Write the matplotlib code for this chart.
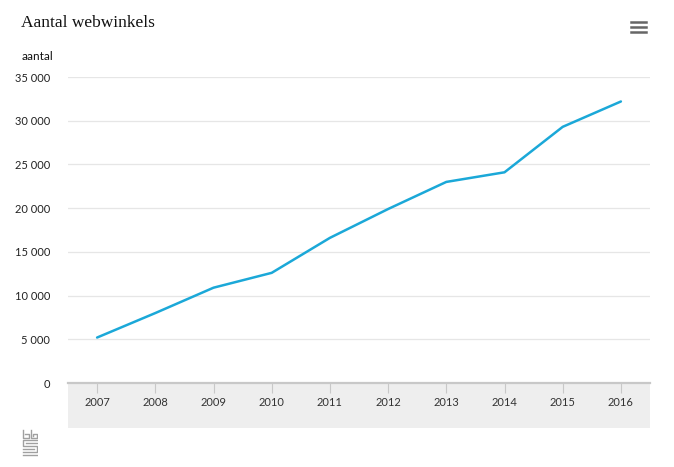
import matplotlib.pyplot as plt

# -------------------------------------------------
# Data
# -------------------------------------------------
years = ["2007", "2008", "2009", "2010", "2011", "2012", "2013", "2014", "2015", "2016"]
webwinkels = [5200, 8000, 10900, 12600, 16600, 19900, 23000, 24100, 29300, 32200]
y_ticks = [0, 5000, 10000, 15000, 20000, 25000, 30000, 35000]

W, H = 674, 467
fig = plt.figure(figsize=(W / 100, H / 100), dpi=100)

# plot area in pixels: x 68..650, y 77..383
left, right, top, bottom = 68, 650, 77, 383

# gray band below the axis (own axes, drawn first)
band = fig.add_axes([left / W, 1 - 428 / H, (right - left) / W, (428 - bottom) / H], zorder=0)
band.set_facecolor("#eeeeee")
band.set_xticks([])
band.set_yticks([])
for s in band.spines.values():
    s.set_visible(False)

ax = fig.add_axes([left / W, 1 - bottom / H, (right - left) / W, (bottom - top) / H], zorder=1)
ax.patch.set_alpha(0)

x = list(range(len(years)))
ax.plot(x, webwinkels, color="#1ba8d8", lw=1.8, solid_capstyle="round")

ax.set_xlim(-0.5, len(years) - 0.5)
ax.set_ylim(0, 35000)
ax.set_yticks(y_ticks)
ax.set_yticklabels([f"{v:,}".replace(",", " ") for v in y_ticks])
ax.grid(axis="y", color="#e6e6e6", lw=0.9)
ax.set_axisbelow(True)
for s in ["top", "right", "left"]:
    ax.spines[s].set_visible(False)
ax.spines["bottom"].set_color("#c8c8c8")
ax.spines["bottom"].set_linewidth(1.6)
ax.tick_params(axis="y", length=0, pad=13, labelsize=8, labelcolor="#222222")
ax.set_xticks(x)
ax.set_xticklabels(years)
ax.tick_params(axis="x", length=7, width=0.8, color="#c8c8c8",
               labelsize=8, labelcolor="#333333", pad=3)
for lbl in ax.get_yticklabels() + ax.get_xticklabels():
    lbl.set_family("Lato")

# title and axis label
fig.text(21 / W, 1 - 23 / H, "Aantal webwinkels", fontsize=12.5, family="Liberation Serif",
         va="center", ha="left", color="#111111")
fig.text(22 / W, 1 - 57 / H, "aantal", fontsize=8.5, family="Lato",
         va="center", ha="left", color="#111111")

# menu icon
for yy in (22, 27, 32):
    fig.add_artist(plt.Line2D([631 / W, 646 / W], [1 - yy / H, 1 - yy / H],
                              transform=fig.transFigure, color="#666666", lw=1.8))

# simple cbs logo
logo = fig.add_axes([22 / W, 1 - 457 / H, 16 / W, 28 / H])
logo.set_xlim(0, 16)
logo.set_ylim(0, 28)
logo.axis("off")
c = "#a0a0a0"
segs = [
    [(1, 27), (1, 19), (7, 19), (7, 23), (3, 23)],
    [(9, 27), (9, 19), (15, 19), (15, 23), (11, 23), (11, 21)],
    [(15, 17), (1, 17), (1, 11), (15, 11), (15, 5), (1, 5)],
    [(15, 14), (4, 14)], [(1, 8), (12, 8)], [(1, 2), (15, 2)],
]
for seg in segs:
    xs, ys = zip(*seg)
    logo.plot(xs, ys, color=c, lw=1.0)

fig.savefig("out.png", dpi=100, facecolor="white")
